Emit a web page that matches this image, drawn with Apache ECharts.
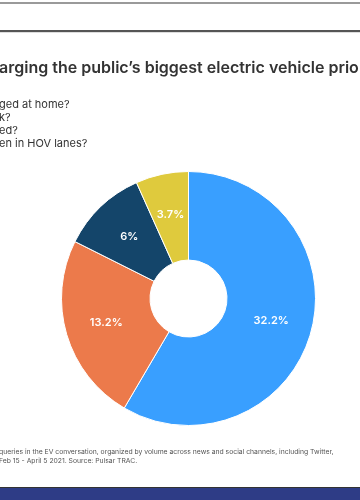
<!DOCTYPE html>
<html>
<head>
<meta charset="utf-8">
<script src="https://cdn.jsdelivr.net/npm/echarts@6/dist/echarts.min.js"></script>
<style>html,body{margin:0;padding:0;background:#fff;}#c{width:360px;height:500px;}</style>
</head>
<body>
<div id="c"></div>
<script>
const sliceNames = ['Home charging', 'Work charging', 'Charging speed', 'HOV lanes'];
const sliceValues = [32.2, 13.2, 6, 3.7];
const sliceColors = ['#399fff', '#ec7a4b', '#14456a', '#dfca3d'];
const titleText = 'arging the public\u2019s biggest electric vehicle prio';
const legendLines = ['ged at home?', 'k?', 'ed?', 'en in HOV lanes?'];
const noteLines = [
  'queries in the EV conversation, organized by volume across news and social channels, including Twitter,',
  'Feb 15 - April 5 2021. Source: Pulsar TRAC.'
];

const chart = echarts.init(document.getElementById('c'), null, {renderer: 'canvas'});
const graphics = [
  {type: 'rect', shape: {x: 0, y: 2, width: 360, height: 2}, style: {fill: '#9a9a9a'}},
  {type: 'rect', shape: {x: 0, y: 30, width: 360, height: 2}, style: {fill: '#555'}},
  {type: 'rect', shape: {x: 0, y: 32, width: 360, height: 1}, style: {fill: '#ddd'}},
  {type: 'rect', shape: {x: 0, y: 487, width: 360, height: 1}, style: {fill: '#333'}},
  {type: 'rect', shape: {x: 0, y: 488, width: 360, height: 12}, style: {fill: '#2e3c86'}},
  {type: 'text', x: -1, y: 68, style: {text: titleText, font: '600 16px Inter', fill: '#333', textVerticalAlign: 'middle'}}
];
legendLines.forEach((t, i) => {
  graphics.push({type: 'text', x: -1, y: 105 + i * 13, style: {text: t, font: '11px Inter', fill: '#333', textVerticalAlign: 'middle'}});
});
noteLines.forEach((t, i) => {
  graphics.push({type: 'text', x: -1, y: 452 + i * 8.5, style: {text: t, font: '6.8px Inter', fill: '#555', textVerticalAlign: 'middle'}});
});

chart.setOption({
  animation: false,
  graphic: graphics,
  series: [{
    type: 'pie',
    center: [188.5, 298.5],
    radius: [38.5, 127],
    startAngle: 90,
    clockwise: true,
    itemStyle: {borderColor: '#fff', borderWidth: 1},
    label: {
      position: 'inside',
      color: '#fff',
      fontSize: 11,
      fontWeight: 600,
      fontFamily: 'Inter',
      formatter: p => p.value + '%'
    },
    labelLine: {show: false},
    emphasis: {disabled: true},
    data: sliceNames.map((n, i) => ({name: n, value: sliceValues[i], itemStyle: {color: sliceColors[i]}}))
  }]
});
</script>
</body>
</html>
